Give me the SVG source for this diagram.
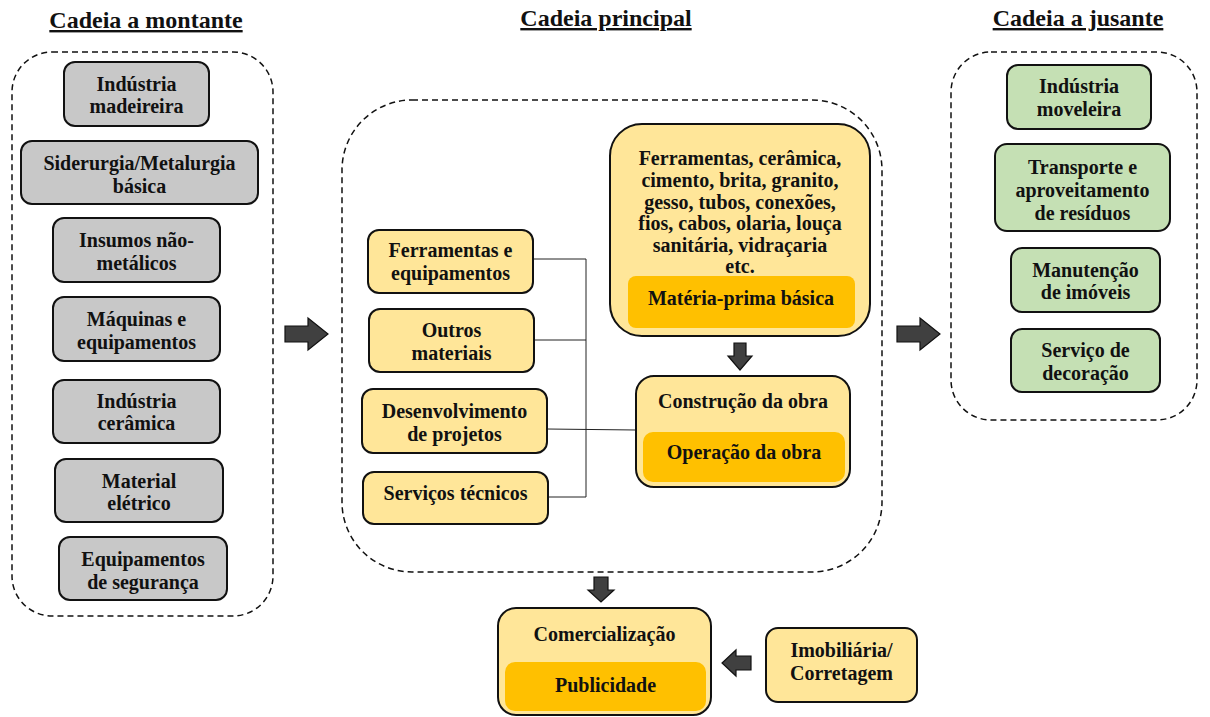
<svg xmlns="http://www.w3.org/2000/svg" width="1210" height="717" viewBox="0 0 1210 717">
<style>
text{font-family:"Liberation Serif","Times New Roman",serif;font-weight:bold;fill:#111;text-anchor:middle}
.t{font-size:20px}
.h{font-size:24px;text-decoration:underline}
.box{stroke:#111;stroke-width:2}
.gray{fill:#c8c8c8}
.yel{fill:#ffe699}
.org{fill:#ffc000}
.grn{fill:#c5e0b4}
.dash{fill:none;stroke:#111;stroke-width:1.5;stroke-dasharray:6 4}
.arr{fill:#404040;stroke:#111;stroke-width:1.2}
.ln{fill:none;stroke:#222;stroke-width:1}
</style>
<rect width="1210" height="717" fill="#fff"/>
<g id="titles">
<text class="h" x="146" y="28">Cadeia a montante</text>
<text class="h" x="606" y="26">Cadeia principal</text>
<text class="h" x="1078" y="26">Cadeia a jusante</text>
</g>
<g id="containers">
<rect class="dash" x="12" y="52" width="261" height="564" rx="40"/>
<rect class="dash" x="342" y="100" width="540" height="472" rx="70"/>
<rect class="dash" x="951" y="52" width="246" height="368" rx="40"/>
</g>
<g id="connectors">
<polyline class="ln" points="533,259 586,259 586,497 548,497"/>
<line class="ln" x1="534" y1="340" x2="586" y2="340"/>
<line class="ln" x1="547" y1="429" x2="636" y2="430"/>
<path class="arr" d="M285,326 H308 V318 L328,334 L308,350 V342 H285 Z"/>
<path class="arr" d="M897,326 H920 V318 L940,334 L920,350 V342 H897 Z"/>
<path class="arr" d="M734,343 H746 V356 H752 L740,370 L728,356 H734 Z"/>
<path class="arr" d="M594,577 H608 V590 H614 L601,602 L588,590 H594 Z"/>
<path class="arr" d="M751,656 H736 V650 L722,663 L736,676 V670 H751 Z"/>
</g>
<g id="n-madeireira"><rect class="box gray" x="64" y="62" width="145" height="64" rx="11"/><text class="t" x="136.5" y="91">Indústria</text><text class="t" x="136.5" y="113">madeireira</text></g>
<g id="n-siderurgia"><rect class="box gray" x="21" y="141" width="237" height="63" rx="11"/><text class="t" x="139.5" y="170">Siderurgia/Metalurgia</text><text class="t" x="139.5" y="193">básica</text></g>
<g id="n-insumos"><rect class="box gray" x="53" y="218" width="167" height="64" rx="11"/><text class="t" x="136.5" y="247">Insumos não-</text><text class="t" x="136.5" y="270">metálicos</text></g>
<g id="n-maquinas"><rect class="box gray" x="53" y="297" width="167" height="64" rx="11"/><text class="t" x="136.5" y="326">Máquinas e</text><text class="t" x="136.5" y="349">equipamentos</text></g>
<g id="n-ceramica"><rect class="box gray" x="53" y="380" width="167" height="63" rx="11"/><text class="t" x="136.5" y="408">Indústria</text><text class="t" x="136.5" y="430">cerâmica</text></g>
<g id="n-eletrico"><rect class="box gray" x="55" y="459" width="168" height="63" rx="11"/><text class="t" x="139" y="488">Material</text><text class="t" x="139" y="510">elétrico</text></g>
<g id="n-seguranca"><rect class="box gray" x="59" y="537" width="168" height="63" rx="11"/><text class="t" x="143" y="566">Equipamentos</text><text class="t" x="143" y="589">de segurança</text></g>
<g id="n-ferr-equip"><rect class="box yel" x="368" y="230" width="165" height="63" rx="11"/><text class="t" x="450.5" y="257">Ferramentas e</text><text class="t" x="450.5" y="280">equipamentos</text></g>
<g id="n-outros"><rect class="box yel" x="369" y="309" width="165" height="63" rx="11"/><text class="t" x="451.5" y="337">Outros</text><text class="t" x="451.5" y="360">materiais</text></g>
<g id="n-desenv"><rect class="box yel" x="362" y="389" width="185" height="64" rx="11"/><text class="t" x="454.5" y="418">Desenvolvimento</text><text class="t" x="454.5" y="441">de projetos</text></g>
<g id="n-servicos"><rect class="box yel" x="363" y="472" width="185" height="52" rx="11"/><text class="t" x="455.5" y="500">Serviços técnicos</text></g>
<g id="n-materia"><rect class="box yel" x="610" y="124" width="260" height="212" rx="32"/><rect class="org" x="628" y="276" width="227" height="52" rx="8"/>
<text class="t" x="740" y="165">Ferramentas, cerâmica,</text><text class="t" x="740" y="187">cimento, brita, granito,</text><text class="t" x="740" y="209">gesso, tubos, conexões,</text><text class="t" x="740" y="230">fios, cabos, olaria, louça</text><text class="t" x="740" y="252">sanitária, vidraçaria</text><text class="t" x="740" y="273">etc.</text><text class="t" x="741" y="305">Matéria-prima básica</text></g>
<g id="n-construcao"><rect class="box yel" x="636" y="376" width="214" height="111" rx="18"/><rect class="org" x="643" y="432" width="202" height="50" rx="10"/><text class="t" x="743" y="408">Construção da obra</text><text class="t" x="744" y="459">Operação da obra</text></g>
<g id="n-comercializacao"><rect class="box yel" x="498" y="608" width="213" height="107" rx="18"/><rect class="org" x="505" y="662" width="201" height="49" rx="10"/><text class="t" x="604.5" y="641">Comercialização</text><text class="t" x="605.5" y="692">Publicidade</text></g>
<g id="n-imobiliaria"><rect class="box yel" x="766" y="628" width="151" height="74" rx="12"/><text class="t" x="841.5" y="657">Imobiliária/</text><text class="t" x="841.5" y="680">Corretagem</text></g>
<g id="n-moveleira"><rect class="box grn" x="1007" y="65" width="144" height="64" rx="11"/><text class="t" x="1079" y="93">Indústria</text><text class="t" x="1079" y="116">moveleira</text></g>
<g id="n-transporte"><rect class="box grn" x="995" y="144" width="175" height="87" rx="12"/><text class="t" x="1082.5" y="174">Transporte e</text><text class="t" x="1082.5" y="197">aproveitamento</text><text class="t" x="1082.5" y="220">de resíduos</text></g>
<g id="n-manutencao"><rect class="box grn" x="1011" y="248" width="149" height="64" rx="11"/><text class="t" x="1085.5" y="277">Manutenção</text><text class="t" x="1085.5" y="299">de imóveis</text></g>
<g id="n-decoracao"><rect class="box grn" x="1011" y="329" width="149" height="63" rx="11"/><text class="t" x="1085.5" y="357">Serviço de</text><text class="t" x="1085.5" y="380">decoração</text></g>
</svg>
